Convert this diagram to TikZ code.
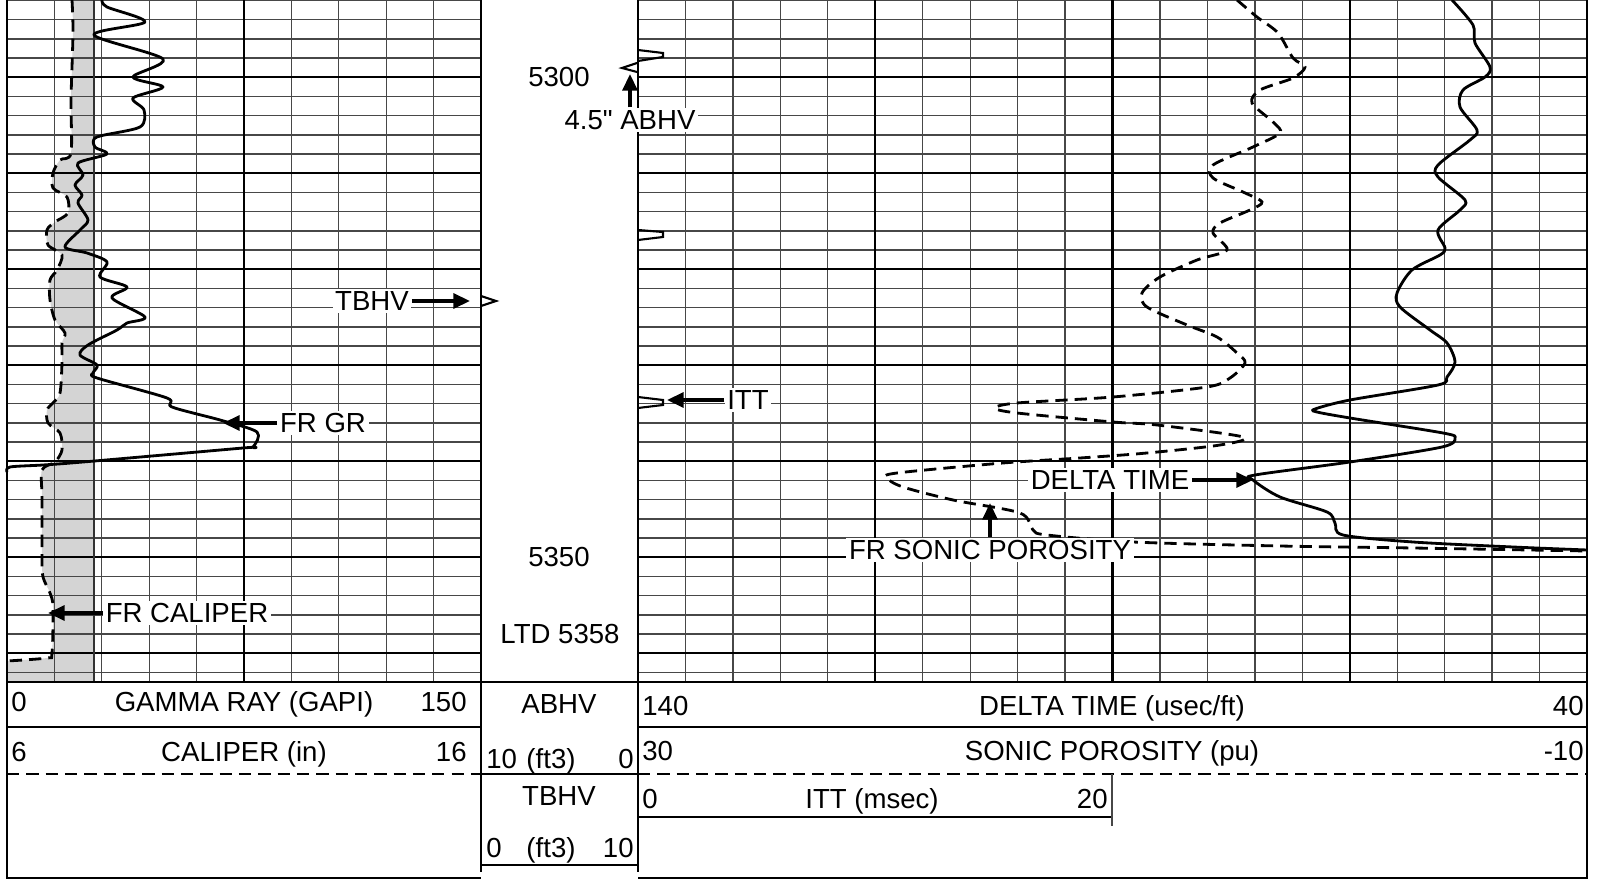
\documentclass[tikz,border=0pt]{standalone}
\usepackage{fontspec}
\setmainfont{Liberation Sans}
\usetikzlibrary{arrows.meta}

\begin{document}
\begin{tikzpicture}
	[x=0.02cm,y=-0.02cm,every node/.style={font=\fontsize{15.7}{18}\selectfont, inner sep=1.5pt}]
	\tikzstyle{gridthin} = [black!72, line width=0.75pt];
	\tikzstyle{gridthick} = [black, line width=1.3pt];
	\tikzstyle{trackedge} = [black, line width=1.4pt];
	\tikzstyle{logline} = [black, line width=1.6pt, line join=round];
	\tikzstyle{logdash} = [black, line width=1.6pt, dash pattern=on 7pt off 4pt];
	\tikzstyle{calfill} = [fill=black!17];
	\tikzstyle{flag} = [line width=1.2pt];
	\tikzstyle{tag} = [fill=white];
	\tikzstyle{pointer} = [line width=1.9pt, -{Triangle[length=9.5pt,width=8.5pt]}];
	\tikzstyle{hdr} = [inner sep=0pt];
	
	\useasboundingbox (0,0) rectangle (1600,881);
	
	% caliper washout
	\fill[calfill] plot[smooth,tension=0.5] coordinates {(72,0) (73,33) (71,100) (71,153) (60,160) (53,173) (53,188) (67,197) (68,213) (55,222) (47,230) (48,245) (62,255) (57,270) (50,280) (50,300) (55,320) (65,333) (62,343) (62,363) (60,393) (53,403) (47,410) (48,423) (60,433) (62,450) (55,462) (42,470) (42,497) (42,557) (43,577) (50,593) (53,607) (52,653) (47,658) (7,661)} -- (7,682) -- (94,682) -- (94,0) -- cycle;
	
	% grid
	\foreach \k in {0,...,35} {
		\draw[gridthin] (7,0.5+19.2*\k) -- (481,0.5+19.2*\k);
		\draw[gridthin] (638,0.5+19.2*\k) -- (1587,0.5+19.2*\k);
	}
	\foreach \i in {1,...,9}
		\draw[gridthin] (7+47.4*\i,0) -- (7+47.4*\i,682);
	\foreach \i in {1,...,19}
		\draw[gridthin] (638+47.45*\i,0) -- (638+47.45*\i,682);
	\foreach \k in {4,9,...,34} {
		\draw[gridthick] (7,0.5+19.2*\k) -- (481,0.5+19.2*\k);
		\draw[gridthick] (638,0.5+19.2*\k) -- (1587,0.5+19.2*\k);
	}
	\draw[gridthick] (244,0) -- (244,682);
	\foreach \i in {5,10,15}
		\draw[gridthick] (638+47.45*\i,0) -- (638+47.45*\i,682);
	\draw[gridthin, black!80] (94,0) -- (94,682);
	
	% frame and header rules
	\draw[trackedge] (7,0) -- (7,878) -- (481,878);
	\draw[trackedge] (638,878) -- (1587,878) -- (1587,0);
	\draw[trackedge] (481,0) -- (481,872);
	\draw[trackedge] (638,0) -- (638,872);
	\draw[trackedge, line width=1pt] (7,682) -- (1587,682);
	\draw[gridthick, line width=1.6pt] (7,727) -- (481,727);
	\draw[gridthick, line width=1.6pt] (638,727) -- (1587,727);
	\draw[logdash, line width=1.2pt] (7,774) -- (481,774);
	\draw[logdash, line width=1.2pt] (638,774) -- (1587,774);
	\draw[gridthick, line width=1.6pt] (481,774) -- (638,774);
	\draw[gridthick, line width=1.6pt] (638,817) -- (1112,817);
	\draw[gridthin] (1112,774) -- (1112,826);
	\draw[gridthick, line width=1.6pt] (481,865) -- (638,865);
	
	% curves
	\draw[logdash] plot[smooth,tension=0.5] coordinates {(72,0) (73,33) (71,100) (71,153) (60,160) (53,173) (53,188) (67,197) (68,213) (55,222) (47,230) (48,245) (62,255) (57,270) (50,280) (50,300) (55,320) (65,333) (62,343) (62,363) (60,393) (53,403) (47,410) (48,423) (60,433) (62,450) (55,462) (42,470) (42,497) (42,557) (43,577) (50,593) (53,607) (52,653) (47,658) (7,661)};
	\draw[logline] plot[smooth,tension=0.5] coordinates {(102,0) (107,7) (145,22) (94,35) (163,59) (133,77) (163,87) (133,98) (144,110) (140,127) (97,137) (95,147) (107,154) (78,163) (83,175) (75,185) (82,195) (78,203) (88,220) (80,230) (65,247) (87,253) (107,262) (100,277) (127,287) (112,298) (145,317) (127,323) (117,330) (88,345) (80,355) (97,365) (93,373) (97,378) (167,398) (172,407) (220,420) (257,432) (253,447) (243,448) (83,462) (43,465) (10,467) (7,472)};
	\draw[logline] plot[smooth,tension=0.5] coordinates {(1452,0) (1473,25) (1475,43) (1490,67) (1485,77) (1463,90) (1460,107) (1477,130) (1470,140) (1438,165) (1438,177) (1465,200) (1460,210) (1438,230) (1445,248) (1440,255) (1412,270) (1397,293) (1400,307) (1430,330) (1447,343) (1455,362) (1447,377) (1438,385) (1350,400) (1315,409) (1317,412) (1350,418) (1443,433) (1455,438) (1442,447) (1350,462) (1255,475) (1253,480) (1280,497) (1327,512) (1335,523) (1343,535) (1413,542) (1513,547) (1587,550)};
	\draw[logdash] plot[smooth,tension=0.5] coordinates {(1237,0) (1257,17) (1278,33) (1293,58) (1305,67) (1293,78) (1260,90) (1252,103) (1273,122) (1280,133) (1253,147) (1213,165) (1213,178) (1243,192) (1262,202) (1250,210) (1220,223) (1213,233) (1227,250) (1197,260) (1160,277) (1142,293) (1147,307) (1187,325) (1217,337) (1237,353) (1245,363) (1230,378) (1207,387) (1113,397) (1017,403) (995,408) (1017,413) (1113,422) (1157,425) (1243,437) (1220,445) (1147,453) (1080,458) (1003,463) (897,473) (887,478) (903,487) (953,500) (1020,513) (1033,530) (1047,535) (1133,542) (1280,546) (1413,548) (1587,551)};
	
	% volume flags
	\draw[flag] (638,50) -- (663,53) -- (663,57) -- (638,61);
	\draw[flag] (638,230) -- (663,232) -- (663,237) -- (638,240);
	\draw[flag] (638,397) -- (663,400) -- (663,405) -- (638,408);
	\draw[flag] (637,63) -- (622,68) -- (637,72);
	\draw[flag] (481,296) -- (496,301) -- (481,306);
	
	% depths
	\node (d5300) at (559,77) {5300};
	\node (d5350) at (559,557) {5350};
	\node (ltd) at (560,634) {LTD 5358};
	
	% callouts
	\node[tag] (tbhvtag) at (372,301) {TBHV};
	\node[tag] (grtag) at (323,423) {FR GR};
	\node[tag] (caltag) at (187,613) {FR CALIPER};
	\node[tag] (abhvtag) at (630,120) {4.5\textquotedbl{} ABHV};
	\node[tag] (itttag) at (748,400) {ITT};
	\node[tag] (dttag) at (1110,480) {DELTA TIME};
	\node[tag] (sptag) at (990,550) {FR SONIC POROSITY};
	\coordinate (tbhvtip) at (470,301);
	\coordinate (grtip) at (223,423);
	\coordinate (caltip) at (48,613);
	\coordinate (abhvtip) at (630,74);
	\coordinate (itttip) at (667,400);
	\coordinate (dttip) at (1253,480);
	\coordinate (sptip) at (990,503);
	\draw[pointer] (tbhvtag) -- (tbhvtip);
	\draw[pointer] (grtag) -- (grtip);
	\draw[pointer] (caltag) -- (caltip);
	\draw[pointer] (abhvtag) -- (abhvtip);
	\draw[pointer] (itttag) -- (itttip);
	\draw[pointer] (dttag) -- (dttip);
	\draw[pointer] (sptag) -- (sptip);
	
	% header
	\node[hdr, anchor=base west] (grlo) at (11,712) {0};
	\node[hdr, anchor=base] (grname) at (244,712) {GAMMA RAY (GAPI)};
	\node[hdr, anchor=base east] (grhi) at (467,712) {150};
	\node[hdr, anchor=base west] (callo) at (11,762) {6};
	\node[hdr, anchor=base] (calname) at (244,762) {CALIPER (in)};
	\node[hdr, anchor=base east] (calhi) at (467,762) {16};
	\node[hdr, anchor=base] (abhvname) at (559,714) {ABHV};
	\node[hdr, anchor=base west] (abhvlo) at (486,768) {10};
	\node[hdr, anchor=base] (abhvunit) at (551,768) {(ft3)};
	\node[hdr, anchor=base east] (abhvhi) at (634,768) {0};
	\node[hdr, anchor=base] (tbhvname) at (559,806) {TBHV};
	\node[hdr, anchor=base west] (tbhvlo) at (486,857) {0};
	\node[hdr, anchor=base] (tbhvunit) at (551,857) {(ft3)};
	\node[hdr, anchor=base east] (tbhvhi) at (634,857) {10};
	\node[hdr, anchor=base west] (dtlo) at (642,716) {140};
	\node[hdr, anchor=base] (dtname) at (1112,716) {DELTA TIME (usec/ft)};
	\node[hdr, anchor=base east] (dthi) at (1584,716) {40};
	\node[hdr, anchor=base west] (splo) at (642,761) {30};
	\node[hdr, anchor=base] (spname) at (1112,761) {SONIC POROSITY (pu)};
	\node[hdr, anchor=base east] (sphi) at (1584,761) {-10};
	\node[hdr, anchor=base west] (ittlo) at (642,808) {0};
	\node[hdr, anchor=base] (ittname) at (872,808) {ITT (msec)};
	\node[hdr, anchor=base east] (itthi) at (1108,808) {20};
\end{tikzpicture}
\end{document}
